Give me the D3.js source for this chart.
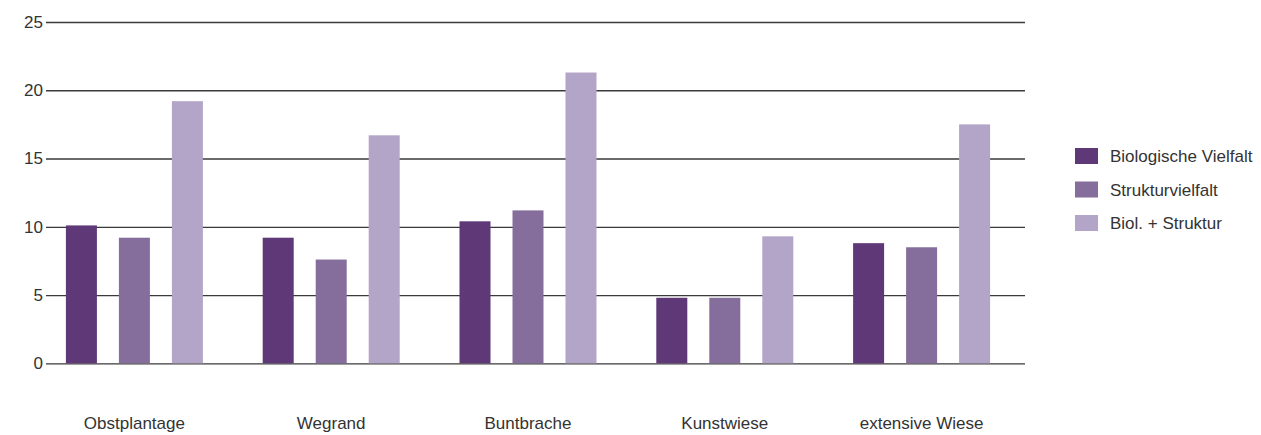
<!DOCTYPE html>
<html>
<head>
<meta charset="utf-8">
<script src="https://cdn.jsdelivr.net/npm/d3@7"></script>
<style>
  body { margin: 0; background: #fff; }
  svg text { font-family: "Liberation Sans", Arial, sans-serif; fill: #333; }
</style>
</head>
<body>
<div id="chart"></div>
<script>
// --- Datos ---
const categories = ["Obstplantage", "Wegrand", "Buntbrache", "Kunstwiese", "extensive Wiese"];
const seriesNames = ["Biologische Vielfalt", "Strukturvielfalt", "Biol. + Struktur"];
const biologische = [10.1, 9.2, 10.4, 4.8, 8.8];
const struktur = [9.2, 7.6, 11.2, 4.8, 8.5];
const biolStruktur = [19.2, 16.7, 21.3, 9.3, 17.5];
const yTicks = [0, 5, 10, 15, 20, 25];
const colors = ["#5f3878", "#856e9c", "#b3a5c7"];

const seriesValues = [biologische, struktur, biolStruktur];

const width = 1261, height = 435;
const svg = d3.select("#chart").append("svg")
    .attr("width", width)
    .attr("height", height);

const y = d3.scaleLinear().domain([0, 25]).range([363.3, 22]);

const x0 = d3.scaleBand()
    .domain(categories)
    .range([36, 1020]);

const x1 = d3.scaleBand()
    .domain(seriesNames)
    .range([-68.5, 68.5])
    .paddingInner(0.415);

// Gitterlinien
const grid = d3.axisLeft(y)
    .tickValues(yTicks)
    .tickSize(-(1025 - 46))
    .tickPadding(4)
    .tickFormat(d3.format("d"));

const gAxis = svg.append("g")
    .attr("transform", "translate(46,0)")
    .call(grid);
gAxis.select(".domain").remove();
gAxis.selectAll(".tick line")
    .attr("stroke", "#3a3a3a")
    .attr("stroke-width", 1.3);
gAxis.selectAll(".tick text")
    .style("font-size", "17px")
    .attr("fill", "#333")
    .attr("x", -3);

// Balken
const groups = svg.append("g").selectAll("g")
    .data(categories)
    .enter().append("g")
    .attr("transform", d => `translate(${x0(d) + x0.bandwidth() / 2},0)`);

groups.selectAll("rect")
    .data((d, i) => seriesNames.map((s, j) => ({ s, v: seriesValues[j][i], c: colors[j] })))
    .enter().append("rect")
    .attr("x", d => x1(d.s))
    .attr("y", d => y(d.v))
    .attr("width", x1.bandwidth())
    .attr("height", d => y(0) - y(d.v))
    .attr("fill", d => d.c);

// Kategorien
svg.append("g").selectAll("text")
    .data(categories)
    .enter().append("text")
    .attr("x", d => x0(d) + x0.bandwidth() / 2)
    .attr("y", 429)
    .attr("text-anchor", "middle")
    .style("font-size", "17px")
    .text(d => d);

// Legende
const legend = svg.append("g").selectAll("g")
    .data(seriesNames)
    .enter().append("g")
    .attr("transform", (d, i) => `translate(1075,${148 + i * 33.5})`);

legend.append("rect")
    .attr("width", 23)
    .attr("height", 16)
    .attr("fill", (d, i) => colors[i]);

legend.append("text")
    .attr("x", 35)
    .attr("y", 14)
    .style("font-size", "17px")
    .text(d => d);
</script>
</body>
</html>
